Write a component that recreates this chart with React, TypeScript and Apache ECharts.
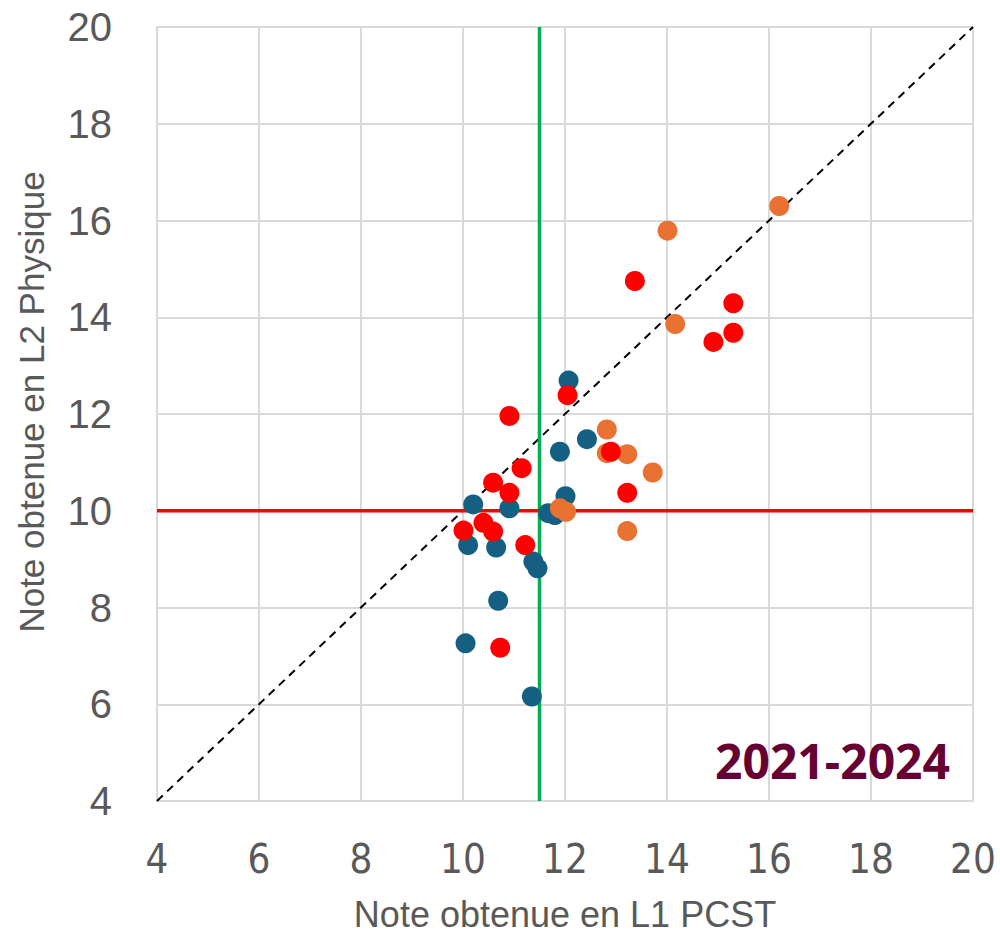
import React, { useEffect, useRef } from "react";
import * as echarts from "echarts";

const blueX = [12.07, 12.43, 11.9, 12.01, 10.2, 10.91, 11.67, 11.8, 10.1, 10.65, 11.38, 11.46, 10.69, 10.05, 11.35];
const blueY = [12.69, 11.48, 11.22, 10.3, 10.13, 10.05, 9.95, 9.91, 9.29, 9.24, 8.95, 8.81, 8.14, 7.26, 6.16];

const orangeX = [12.82, 12.82, 13.22, 13.72, 11.9, 12.02, 13.22, 14.01, 16.2, 14.16];
const orangeY = [11.68, 11.19, 11.17, 10.79, 10.05, 9.98, 9.58, 15.79, 16.3, 13.86];

const redX = [12.05, 10.91, 12.9, 11.15, 10.59, 10.91, 13.22, 10.4, 10.59, 10.01, 11.22, 10.73, 13.37, 15.3, 15.3, 14.91];
const redY = [12.39, 11.96, 11.22, 10.88, 10.58, 10.37, 10.37, 9.75, 9.57, 9.59, 9.29, 7.17, 14.75, 14.29, 13.68, 13.49];

const axisMin = 4;
const axisMax = 20;
const axisStep = 2;
const thresholdX = 11.5;
const thresholdY = 10;
const periodLabel = "2021-2024";
const xName = "Note obtenue en L1 PCST";
const yName = "Note obtenue en L2 Physique";

const zip = (xs: number[], ys: number[]) => xs.map((x, i) => [x, ys[i]]);

export default function App() {
  const ref = useRef<HTMLDivElement>(null);
  useEffect(() => {
    if (!ref.current) return;
    const chart = echarts.init(ref.current, null, { renderer: "svg" });
    const gridColor = "#D9D9D9";
    chart.setOption({
      animation: false,
      backgroundColor: "#ffffff",
      grid: { left: 157, right: 27, top: 27, bottom: 137, containLabel: false },
      xAxis: {
        type: "value",
        min: axisMin,
        max: axisMax,
        interval: axisStep,
        name: xName,
        nameLocation: "middle",
        nameGap: 95,
        nameTextStyle: { fontFamily: "Liberation Sans", fontSize: 36, color: "#595959" },
        axisLine: { show: true, lineStyle: { color: gridColor, width: 2 } },
        axisTick: { show: false },
        axisLabel: { fontFamily: "Liberation Sans Narrow, DejaVu Sans Condensed, sans-serif", fontSize: 40, color: "#595959", margin: 38 },
        splitLine: { show: true, lineStyle: { color: gridColor, width: 2 } },
      },
      yAxis: {
        type: "value",
        min: axisMin,
        max: axisMax,
        interval: axisStep,
        name: yName,
        nameLocation: "middle",
        nameGap: 108,
        nameTextStyle: { fontFamily: "Liberation Sans", fontSize: 35, color: "#595959", padding: [0, 0, 0, 24] },
        axisLine: { show: true, lineStyle: { color: gridColor, width: 2 } },
        axisTick: { show: false },
        axisLabel: { fontFamily: "Liberation Sans", fontSize: 40, color: "#595959", margin: 45 },
        splitLine: { show: true, lineStyle: { color: gridColor, width: 2 } },
      },
      series: [
        {
          type: "line",
          data: [[axisMin, axisMin], [axisMax, axisMax]],
          symbol: "none",
          lineStyle: { color: "#000000", width: 2, type: [8, 6] },
          z: 1,
          silent: true,
        },
        {
          type: "line",
          data: [[thresholdX, axisMin], [thresholdX, axisMax]],
          symbol: "none",
          lineStyle: { color: "#00B050", width: 3.5 },
          z: 1,
          silent: true,
        },
        {
          type: "line",
          data: [[axisMin, thresholdY], [axisMax, thresholdY]],
          symbol: "none",
          lineStyle: { color: "#FF0000", width: 3.5 },
          z: 1,
          silent: true,
        },
        {
          type: "scatter",
          data: zip(blueX, blueY),
          symbolSize: 20,
          itemStyle: { color: "#156082", opacity: 1 },
          z: 3,
        },
        {
          type: "scatter",
          data: zip(orangeX, orangeY),
          symbolSize: 20,
          itemStyle: { color: "#E97132", opacity: 1 },
          z: 4,
        },
        {
          type: "scatter",
          data: zip(redX, redY),
          symbolSize: 20,
          itemStyle: { color: "#FF0000", opacity: 1 },
          z: 5,
        },
      ],
      graphic: [
        {
          type: "text",
          right: 50,
          top: 736,
          style: {
            text: periodLabel,
            fontFamily: "Noto Sans",
            fontWeight: "bold",
            fontSize: 48,
            fill: "#660033",
          },
          z: 10,
        },
      ],
    });
    return () => chart.dispose();
  }, []);
  return (
    <div style={{ position: "absolute", left: 0, top: 0, width: 1000, height: 938 }}>
      <div ref={ref} style={{ width: 1000, height: 938 }} />
    </div>
  );
}
